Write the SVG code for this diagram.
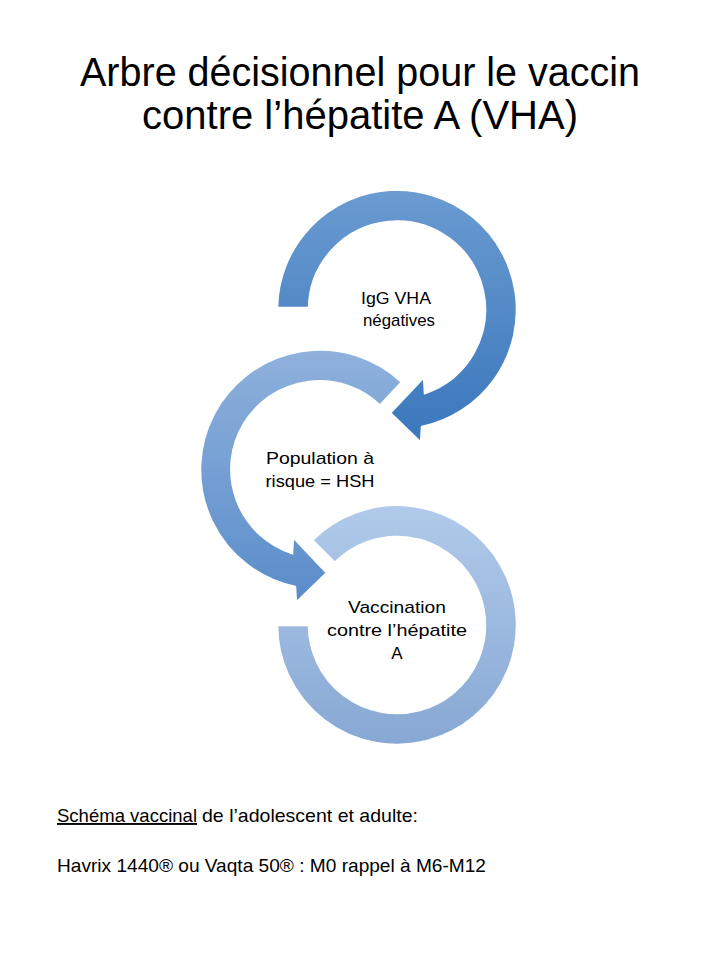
<svg xmlns="http://www.w3.org/2000/svg" width="720" height="960" viewBox="0 0 720 960">
<style>
.t{font-family:"Liberation Sans",Arial,sans-serif;fill:#000}
.title{font-size:41px;text-anchor:middle}
.lbl{font-size:17px;text-anchor:middle}
.body{font-size:19px}
.ring{stroke:#fff;stroke-width:2.5;stroke-linejoin:miter}
</style>
<defs>
<linearGradient id="g1" x1="0" y1="0" x2="0" y2="1">
<stop offset="0" stop-color="#6a9bd1"/><stop offset="1" stop-color="#3a77bc"/>
</linearGradient>
<linearGradient id="g2" x1="0" y1="0" x2="0" y2="1">
<stop offset="0" stop-color="#8fb1dc"/><stop offset="1" stop-color="#5a8cca"/>
</linearGradient>
<linearGradient id="g3" x1="0" y1="0" x2="0" y2="1">
<stop offset="0" stop-color="#b1caea"/><stop offset="1" stop-color="#87a8d4"/>
</linearGradient>
</defs>
<rect width="720" height="960" fill="#fff"/>
<g id="title">
<text class="t title" x="360" y="86" textLength="560" lengthAdjust="spacingAndGlyphs">Arbre décisionnel pour le vaccin</text>
<text class="t title" x="360" y="129" textLength="436" lengthAdjust="spacingAndGlyphs">contre l’hépatite A (VHA)</text>
</g>
<g id="connectors"></g>
<g id="node3" transform="translate(397,625)">
<path class="ring" fill="url(#g3)" d="M -84.9 -84.9 A 120 120 0 1 1 -120 0 L -88 0 A 88 88 0 1 0 -62.2 -62.2 Z"/>
<text class="t lbl" x="0" y="-12" textLength="98" lengthAdjust="spacingAndGlyphs">Vaccination</text>
<text class="t lbl" x="0" y="11" textLength="140" lengthAdjust="spacingAndGlyphs">contre l’hépatite</text>
<text class="t lbl" x="0" y="34">A</text>
</g>
<g id="node2" transform="translate(320,470)">
<path class="ring" fill="url(#g2)" d="M 82 -88 A 120 120 0 1 0 -25 117 L -24 133 L 7 103 L -27 67 L -28 83 A 88 88 0 1 1 60 -64.4 Z"/>
<text class="t lbl" x="0" y="-6" textLength="108" lengthAdjust="spacingAndGlyphs">Population à</text>
<text class="t lbl" x="0" y="17" textLength="109" lengthAdjust="spacingAndGlyphs">risque = HSH</text>
</g>
<g id="node1" transform="translate(397,310)">
<path class="ring" fill="url(#g1)" d="M -120 -2 A 120 120 0 1 1 25 117 L 24 133 L -7 103 L 27 67 L 28 83 A 88 88 0 1 0 -88 -2 Z"/>
<text class="t lbl" x="-1" y="-6" textLength="70" lengthAdjust="spacingAndGlyphs">IgG VHA</text>
<text class="t lbl" x="2" y="16" textLength="72" lengthAdjust="spacingAndGlyphs">négatives</text>
</g>
<g id="notes">
<text class="t body" x="57" y="822" textLength="140" lengthAdjust="spacingAndGlyphs" text-decoration="underline">Schéma vaccinal</text>
<text class="t body" x="202" y="822" textLength="216" lengthAdjust="spacingAndGlyphs">de l’adolescent et adulte:</text>
<text class="t body" x="57" y="872" textLength="429" lengthAdjust="spacingAndGlyphs">Havrix 1440® ou Vaqta 50® : M0 rappel à M6-M12</text>
</g>
</svg>
